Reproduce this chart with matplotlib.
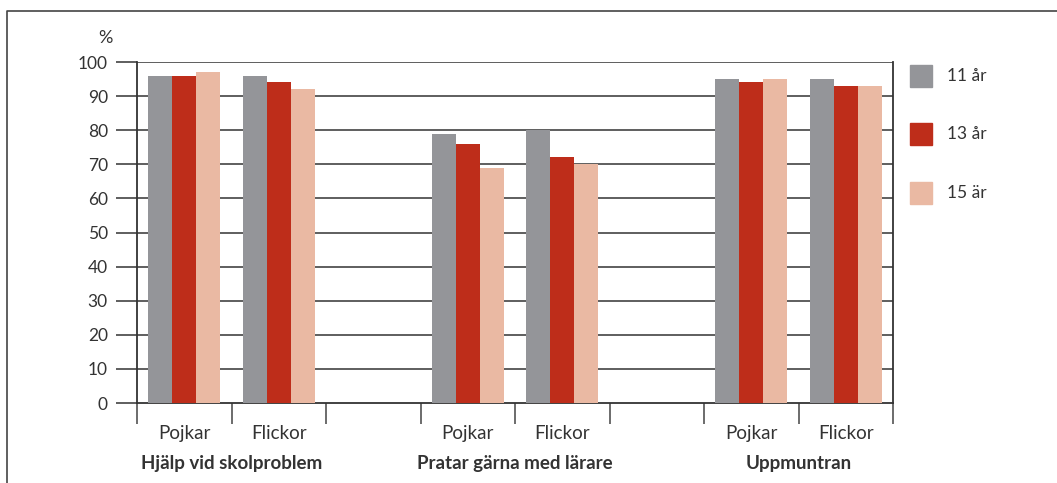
import numpy as np
import matplotlib.pyplot as plt
from matplotlib.patches import Rectangle
from matplotlib.lines import Line2D

plt.rcParams['font.family'] = ['Lato', 'DejaVu Sans']

groups = ['Hjälp vid skolproblem', 'Pratar gärna med lärare', 'Uppmuntran']
sexes = ['Pojkar', 'Flickor']
ages = ['11 år', '13 år', '15 är']
colors = ['#949599', '#be2d1a', '#eab9a3']

# one row per age, columns: group x sex
age11 = [96, 96, 79, 80, 95, 95]
age13 = [96, 94, 76, 72, 94, 93]
age15 = [97, 92, 69, 70, 95, 93]
series = [age11, age13, age15]

txt = '#333333'

def main():
    fig = plt.figure(figsize=(10.57, 4.83), dpi=100)
    ax = fig.add_axes([137/1057, 80/483, 756/1057, 341/483])

    # 8 slots: two bars groups, then an empty slot between each topic
    slots = np.array([0, 1, 3, 4, 6, 7]) + 0.5
    w = 0.254
    for i, vals in enumerate(series):
        ax.bar(slots + (i - 1)*w, vals, width=w, color=colors[i], zorder=3)

    ax.set_xlim(0, 8)
    ax.set_ylim(0, 100)
    ax.set_yticks(range(0, 101, 10))
    ax.set_yticklabels([str(v) for v in range(0, 101, 10)], fontsize=12.5, color=txt)
    for v in range(10, 101, 10):
        ax.axhline(v, color='#333333', lw=1.1, zorder=1)

    ax.set_xticks(range(9))
    ax.set_xticklabels([])
    ax.tick_params(axis='x', direction='out', length=15, width=1.1, color='#444444')
    ax.tick_params(axis='y', direction='out', length=15, width=1.1, color='#333333', pad=6)

    ax.spines['top'].set_visible(False)
    for s in ['left', 'right', 'bottom']:
        ax.spines[s].set_color('#333333')
        ax.spines[s].set_linewidth(1.3)

    for k, x in enumerate(slots):
        ax.text(x, -8.8, sexes[k % 2], ha='center', va='center', fontsize=13.5, color=txt)
    for g, name in enumerate(groups):
        ax.text(3*g + 1, -17.6, name, ha='center', va='center', fontsize=13.5,
                fontweight='bold', color=txt)

    fig.text(105/1057, 1 - 38/483, '%', ha='center', va='center', fontsize=13, color=txt)

    # legend squares to the right of the plot
    for i, lab in enumerate(ages):
        y = [76, 134, 193][i]
        fig.patches.append(Rectangle((910/1057, 1 - (y + 11)/483), 22/1057, 22/483,
                                     transform=fig.transFigure, color=colors[i]))
        fig.text(947/1057, 1 - y/483, lab, ha='left', va='center', fontsize=12.5, color=txt)

    # outer frame (top and left edge)
    fig.lines.append(Line2D([7/1057, 7/1057, 1], [0, 1 - 11/483, 1 - 11/483],
                            transform=fig.transFigure, color='#444444', lw=1.2))

    fig.savefig('out.png', dpi=100)


if __name__ == "__main__":
    main()
